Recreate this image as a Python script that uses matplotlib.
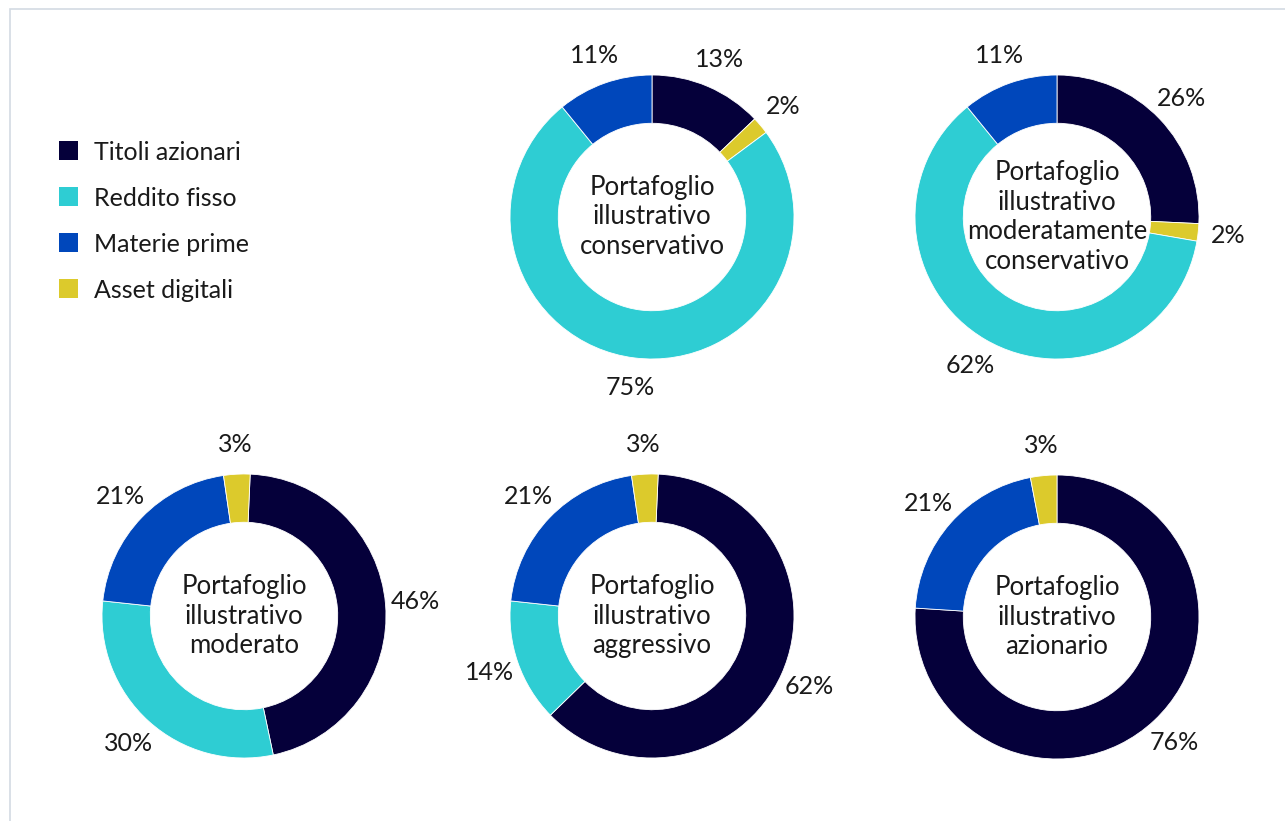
import numpy as np
import matplotlib.pyplot as plt
from matplotlib.patches import Patch, Rectangle

plt.rcParams['font.family'] = ['Lato', 'DejaVu Sans']

categories = ["Titoli azionari", "Reddito fisso", "Materie prime", "Asset digitali"]
colors = {"Titoli azionari": "#05003a", "Reddito fisso": "#2ecdd3",
          "Materie prime": "#0047bb", "Asset digitali": "#dcca2c"}

# portfolio name, slice order (clockwise from 12 o'clock), values in %
titles = ["Portafoglio\nillustrativo\nconservativo",
          "Portafoglio\nillustrativo\nmoderatamente\nconservativo",
          "Portafoglio\nillustrativo\nmoderato",
          "Portafoglio\nillustrativo\naggressivo",
          "Portafoglio\nillustrativo\nazionario"]
orders = [["Titoli azionari", "Asset digitali", "Reddito fisso", "Materie prime"],
          ["Titoli azionari", "Asset digitali", "Reddito fisso", "Materie prime"],
          ["Titoli azionari", "Reddito fisso", "Materie prime", "Asset digitali"],
          ["Titoli azionari", "Reddito fisso", "Materie prime", "Asset digitali"],
          ["Titoli azionari", "Materie prime", "Asset digitali"]]
values = [[13, 2, 75, 11],
          [26, 2, 62, 11],
          [46, 30, 21, 3],
          [62, 14, 21, 3],
          [76, 21, 3]]

W, H = 1285, 821
fig = plt.figure(figsize=(W / 100, H / 100), dpi=100)

# thin frame on the left and top
fig.add_artist(Rectangle((10 / W, -0.1), 1.2, 1 - 9 / H + 0.1, transform=fig.transFigure,
                         fill=False, edgecolor="#d3dae3", linewidth=1.2))

centers = [(652, 217), (1057, 217), (244, 616), (652, 616), (1057, 617)]
starts = [90, 90, 87.5, 87.5, 90]
R = 142  # outer radius in px
box = 440

for title, order, vals, (cx, cy), start in zip(titles, orders, values, centers, starts):
    ax = fig.add_axes([(cx - box / 2) / W, 1 - (cy + box / 2) / H, box / W, box / H])
    lim = box / 2 / R
    ax.pie(vals, colors=[colors[c] for c in order], startangle=start, counterclock=False,
           radius=1, wedgeprops=dict(width=0.34, edgecolor="white", linewidth=0.6))
    ax.set_xlim(-lim, lim)
    ax.set_ylim(-lim, lim)
    ax.set_aspect("equal")
    ax.axis("off")
    total = sum(vals)
    cum = 0
    for v in vals:
        mid = np.radians(90 - start) + (cum + v / 2) / total * 2 * np.pi
        cum += v
        ax.text(1.21 * np.sin(mid), 1.21 * np.cos(mid), f"{v}%", ha="center", va="center",
                fontsize=18, color="#1a1a1a")
    ax.text(0, 0, title, ha="center", va="center", fontsize=18.5, color="#1a1a1a",
            linespacing=1.22)

handles = [Patch(facecolor=colors[c], edgecolor="none") for c in categories]
fig.legend(handles, categories, loc="upper left", bbox_to_anchor=(36 / W, 1 - 118 / H),
           frameon=False, fontsize=18, handlelength=0.78, handleheight=0.78,
           handletextpad=0.65, labelspacing=0.92, labelcolor="#1a1a1a")

fig.savefig("out.png", dpi=100, facecolor="white")
